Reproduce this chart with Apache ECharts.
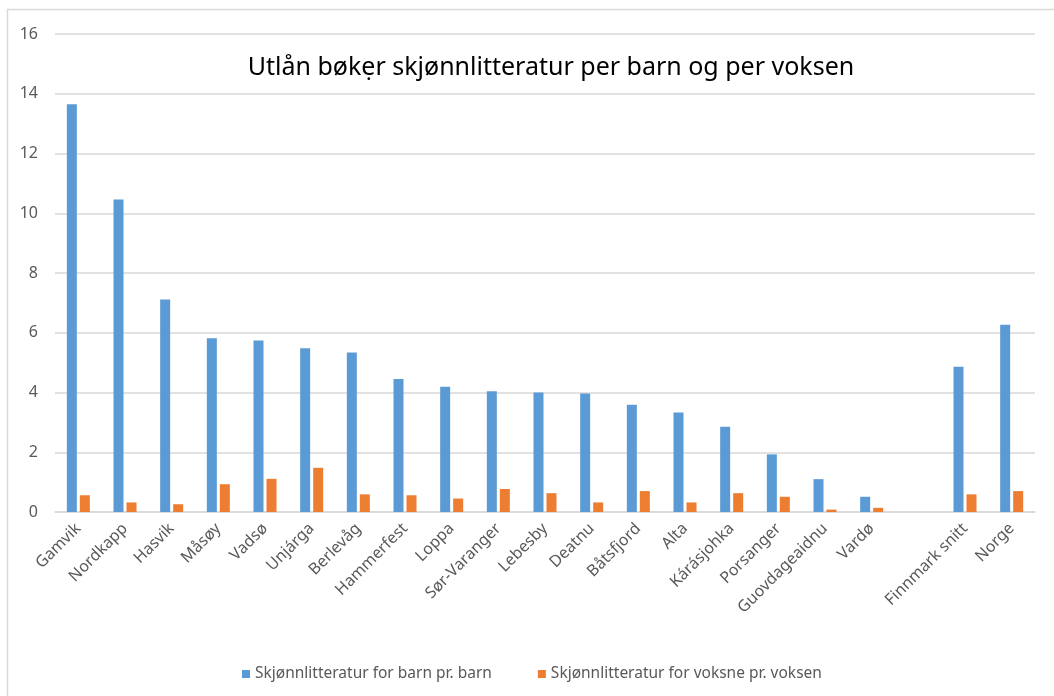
<!DOCTYPE html>
<html>
<head>
<meta charset="utf-8">
<script src="https://cdn.jsdelivr.net/npm/echarts@6/dist/echarts.min.js"></script>
<style>
html, body { margin: 0; padding: 0; background: #fff; }
#chart { width: 1054px; height: 696px; }
</style>
</head>
<body>
<div id="chart"></div>
<script>
// kommuner (tom plass før snittene)
var categories = ['Gamvik', 'Nordkapp', 'Hasvik', 'Måsøy', 'Vadsø', 'Unjárga', 'Berlevåg', 'Hammerfest',
  'Loppa', 'Sør-Varanger', 'Lebesby', 'Deatnu', 'Båtsfjord', 'Alta', 'Kárásjohka', 'Porsanger',
  'Guovdageaidnu', 'Vardø', '', 'Finnmark snitt', 'Norge']
var barnValues = [13.65, 10.46, 7.11, 5.82, 5.74, 5.48, 5.34, 4.45, 4.19, 4.04, 4.0, 3.97, 3.59, 3.33,
  2.85, 1.93, 1.1, 0.51, null, 4.86, 6.27]
var voksneValues = [0.56, 0.32, 0.26, 0.93, 1.11, 1.48, 0.59, 0.56, 0.45, 0.77, 0.63, 0.32, 0.7, 0.32,
  0.63, 0.51, 0.08, 0.14, null, 0.59, 0.7]
var seriesNames = ['Skjønnlitteratur for barn pr. barn', 'Skjønnlitteratur for voksne pr. voksen']
var yTicks = [0, 2, 4, 6, 8, 10, 12, 14, 16]

var chart = echarts.init(document.getElementById('chart'))
var font = 'Noto Sans'
var option = {
  animation: false,
  color: ['#5B9BD5', '#ED7D31'],
  textStyle: { fontFamily: font },
  graphic: [{
    type: 'rect',
    shape: { x: 7.5, y: 9.5, width: 1060, height: 720 },
    style: { fill: 'none', stroke: '#d9d9d9', lineWidth: 1.5 },
    silent: true
  }],
  title: {
    text: 'Utlån bøkẹr skjønnlitteratur per barn og per voksen',
    left: 546,
    top: 50,
    textAlign: 'center',
    textStyle: { fontFamily: font, fontSize: 25, fontWeight: 'normal', color: '#000' }
  },
  legend: {
    data: seriesNames,
    left: 237,
    top: 661,
    itemWidth: 8,
    itemHeight: 8,
    itemGap: 46,
    icon: 'rect',
    textStyle: { fontFamily: font, fontSize: 15.5, color: '#595959' }
  },
  grid: { left: 55, right: 19, top: 34, bottom: 184 },
  xAxis: {
    type: 'category',
    data: categories,
    axisLine: { lineStyle: { color: '#d9d9d9', width: 1.5 } },
    axisTick: { show: false },
    axisLabel: { rotate: 45, interval: 0, fontFamily: font, fontSize: 16, color: '#595959', margin: 14 }
  },
  yAxis: {
    type: 'value',
    min: yTicks[0],
    max: yTicks[yTicks.length - 1],
    interval: 2,
    axisLine: { show: false },
    axisTick: { show: false },
    splitLine: { lineStyle: { color: '#d9d9d9', width: 1.5 } },
    axisLabel: { fontFamily: font, fontSize: 16, color: '#595959', margin: 17 }
  },
  series: [
    { name: seriesNames[0], type: 'bar', data: barnValues, barWidth: 10, barGap: '30%' },
    { name: seriesNames[1], type: 'bar', data: voksneValues, barWidth: 10, barGap: '30%' }
  ]
}
chart.setOption(option)
</script>
</body>
</html>
